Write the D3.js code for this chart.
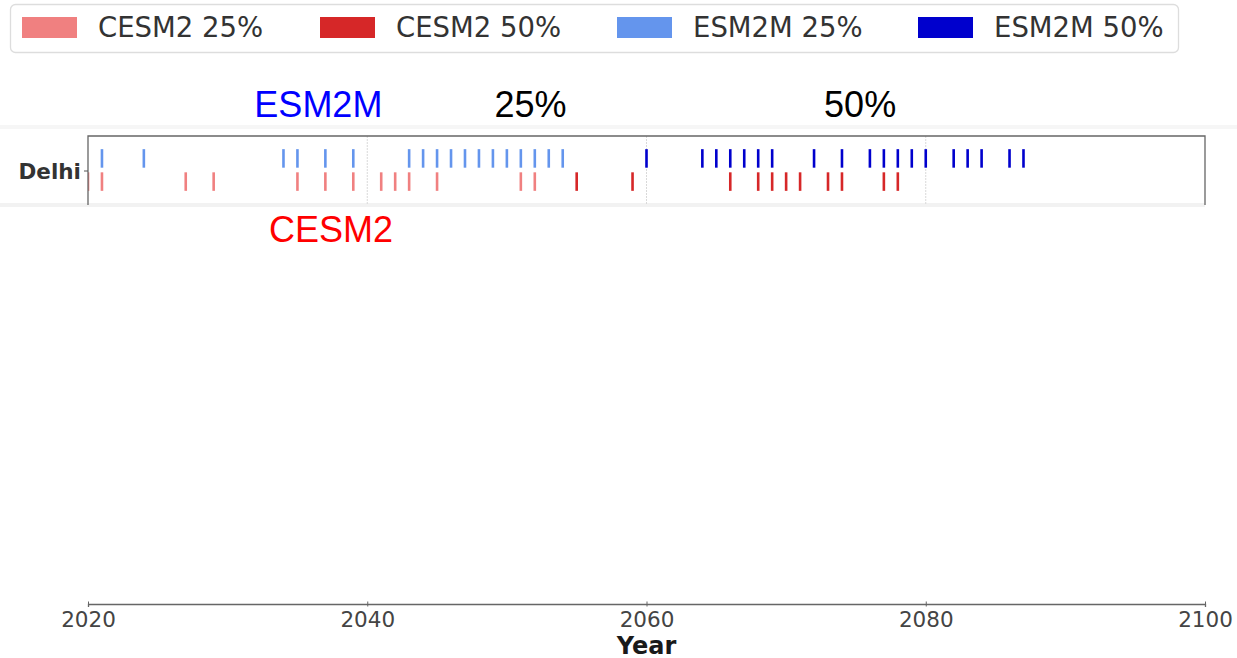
<!DOCTYPE html>
<html>
<head>
<meta charset="utf-8">
<script src="https://cdn.jsdelivr.net/npm/d3@7"></script>
<style>
  html, body { margin: 0; padding: 0; background: #fff; }
  svg { display: block; }
</style>
</head>
<body>
<svg id="chart" width="1237" height="658"></svg>
<script>
// ---------------- data ----------------
const cities = ["Delhi"];
const seriesNames = ["CESM2 25%", "CESM2 50%", "ESM2M 25%", "ESM2M 50%"];
const seriesModels = ["CESM2", "CESM2", "ESM2M", "ESM2M"];
const seriesColors = ["#f08080", "#d62728", "#6495ed", "#0000cd"];
const cesm2_25 = [2020, 2021, 2027, 2029, 2035, 2037, 2039, 2041, 2042, 2043, 2045, 2051, 2052];
const cesm2_50 = [2055, 2059, 2066, 2068, 2069, 2070, 2071, 2073, 2074, 2077, 2078];
const esm2m_25 = [2021, 2024, 2034, 2035, 2037, 2039, 2043, 2044, 2045, 2046, 2047, 2048, 2049, 2050, 2051, 2052, 2053, 2054];
const esm2m_50 = [2060, 2064, 2065, 2066, 2067, 2068, 2069, 2072, 2074, 2076, 2077, 2078, 2079, 2080, 2082, 2083, 2084, 2086, 2087];
const xTicks = [2020, 2040, 2060, 2080, 2100];
const seriesYears = [cesm2_25, cesm2_50, esm2m_25, esm2m_50];

// ---------------- layout ----------------
const svg = d3.select("#chart");
const left = 88, right = 1205, plotTop = 136, plotBottom = 205, axisY = 604;

const x = d3.scaleLinear().domain([2020, 2100]).range([left, right]);
const row = d3.scaleBand().domain(["ESM2M", "CESM2"]).range([148, 192]).paddingInner(0.2).paddingOuter(0.05);

// faint background bands
svg.append("rect").attr("x", 0).attr("y", 125).attr("width", 1237).attr("height", 4).attr("fill", "#f6f6f6");
svg.append("rect").attr("x", 0).attr("y", plotBottom - 2).attr("width", right).attr("height", 4).attr("fill", "#f2f2f2");

// plot background
svg.append("rect").attr("x", left).attr("y", plotTop).attr("width", right - left).attr("height", plotBottom - plotTop - 2).attr("fill", "#fff");

// gridlines
svg.append("g").selectAll("line").data(xTicks.slice(1, -1)).join("line")
  .attr("x1", d => x(d)).attr("x2", d => x(d))
  .attr("y1", plotTop).attr("y2", plotBottom)
  .attr("stroke", "#d9d9d9").attr("stroke-width", 1).attr("stroke-dasharray", "2,1");

// clip
svg.append("clipPath").attr("id", "clip").append("rect")
  .attr("x", left).attr("y", plotTop).attr("width", right - left).attr("height", plotBottom - plotTop);

const marks = svg.append("g").attr("clip-path", "url(#clip)");
seriesYears.forEach((years, i) => {
  marks.append("g").selectAll("rect").data(years).join("rect")
    .attr("x", d => x(d) - 1.3)
    .attr("width", 2.6)
    .attr("y", row(seriesModels[i]))
    .attr("height", row.bandwidth())
    .attr("fill", seriesColors[i]);
});

// frame
svg.append("path")
  .attr("d", `M${left},${plotBottom} V${plotTop} H${right} V${plotBottom}`)
  .attr("fill", "none").attr("stroke", "#666").attr("stroke-width", 1.3);

// y label
svg.append("line").attr("x1", left - 4).attr("x2", left).attr("y1", 171).attr("y2", 171).attr("stroke", "#555");
svg.append("text").attr("x", left - 7).attr("y", 171).attr("dy", "0.36em")
  .attr("text-anchor", "end").attr("font-family", "DejaVu Sans").attr("font-weight", "bold")
  .attr("font-size", 21.5).attr("fill", "#333").text(cities[0]);

// x axis
const axis = svg.append("g").attr("transform", `translate(0,${axisY})`)
  .call(d3.axisBottom(x).tickValues(xTicks).tickFormat(d3.format("d")).tickSize(3).tickPadding(5));
axis.select(".domain").attr("stroke", "#666").attr("stroke-width", 1.3);
axis.selectAll(".tick line").attr("stroke", "#666").attr("y1", -2.5).attr("y2", 2.5);
axis.selectAll(".tick text").attr("font-family", "DejaVu Sans").attr("font-size", 21.5).attr("fill", "#444");

svg.append("text").attr("x", (left + right) / 2).attr("y", 654)
  .attr("text-anchor", "middle").attr("font-family", "DejaVu Sans").attr("font-weight", "bold")
  .attr("font-size", 24).attr("fill", "#1a1a1a").text("Year");

// annotations
const ann = [
  { t: "ESM2M", year: 2036.5, y: 117, c: "#0000ff" },
  { t: "25%", year: 2051.7, y: 117, c: "#000" },
  { t: "50%", year: 2075.3, y: 117, c: "#000" },
  { t: "CESM2", year: 2037.4, y: 242, c: "#ff0000" }
];
svg.append("g").selectAll("text").data(ann).join("text")
  .attr("x", d => x(d.year)).attr("y", d => d.y)
  .attr("text-anchor", "middle").attr("font-family", "Liberation Sans, Arial, sans-serif")
  .attr("font-size", 36).attr("fill", d => d.c).text(d => d.t);

// legend
const lg = svg.append("g");
lg.append("rect").attr("x", 10.5).attr("y", 4.5).attr("width", 1168).attr("height", 48).attr("rx", 5)
  .attr("fill", "#fff").attr("stroke", "#ddd").attr("stroke-width", 1.3);
const lx = [22, 320, 617, 918];
const items = lg.selectAll("g.item").data(seriesNames).join("g").attr("class", "item")
  .attr("transform", (d, i) => `translate(${lx[i]},0)`);
items.append("rect").attr("x", 0).attr("y", 17).attr("width", 55).attr("height", 21)
  .attr("fill", (d, i) => seriesColors[i]);
items.append("text").attr("x", 76).attr("y", 37).attr("font-family", "DejaVu Sans")
  .attr("font-size", 27.5).attr("fill", "#333").text(d => d);
</script>
</body>
</html>
